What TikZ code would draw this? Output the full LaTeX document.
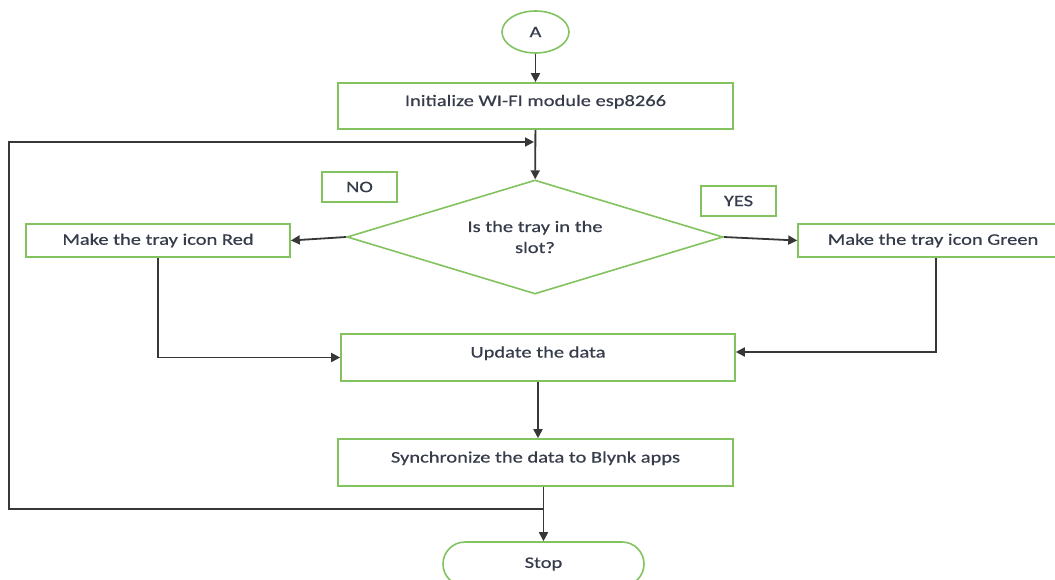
\documentclass[tikz,border=0pt]{standalone}
\usepackage{fontspec}
\setmainfont{Carlito}[FakeStretch=1.28,FakeBold=0.6]
\usetikzlibrary{shapes.geometric,arrows.meta}
\definecolor{bordergreen}{RGB}{130,195,95}
\definecolor{txt}{RGB}{55,60,75}
\definecolor{conn}{RGB}{55,55,55}
\begin{document}
\begin{tikzpicture}[x=1pt,y=-1pt,
  base/.style={draw=bordergreen,line width=1.6pt,fill=white,text=txt,
    font=\fontsize{16}{21}\selectfont,inner sep=0pt},
  proc/.style={base,rectangle},
  upper/.style={text height=11pt,text depth=11pt},
  arr/.style={draw=conn,line width=1.8pt,-{Triangle[length=9pt,width=9pt]}}
]
\useasboundingbox (0,0) rectangle (1055,580);

\node[base,ellipse,minimum width=67pt,minimum height=42pt] (A) at (535.5,32) {A};
\node[proc,upper,minimum width=395pt,minimum height=46pt] (init) at (535.5,106) {Initialize WI-FI module esp8266};
\node[base,diamond,aspect=3.3,minimum width=376pt,minimum height=114pt,align=center] (dec) at (535,237) {Is the tray in the\\slot?};
\node[proc,minimum width=75pt,minimum height=30pt] (no) at (359.5,187) {NO};
\node[proc,minimum width=75pt,minimum height=30pt] (yes) at (738.5,201) {YES};
\node[proc,minimum width=264pt,minimum height=33pt] (red) at (158,240.5) {Make the tray icon Red};
\node[proc,minimum width=270pt,minimum height=33pt] (green) at (933,240.5) {Make the tray icon Green};
\node[proc,upper,minimum width=394pt,minimum height=47pt] (update) at (538,357.5) {Update the data};
\node[proc,upper,minimum width=395pt,minimum height=47pt] (sync) at (535.5,462.5) {Synchronize the data to Blynk apps};
\node[base,rectangle,rounded corners=22pt,minimum width=201pt,minimum height=44pt] (stop) at (543.5,564) {Stop};

\coordinate (jb) at (542.5,509);
\coordinate (lb) at (9,509);
\coordinate (lt) at (9,142);
\coordinate (jt) at (534,142);

\draw[arr] (A) -- (init);
\draw[arr] (init) -- (dec);
\draw[arr] (dec.west) -- (red.east);
\draw[arr] (dec.east) -- (green.west);
\draw[arr] (red.south) |- (update.west);
\draw[arr] ([xshift=3pt]green.south) |- ([yshift=5.5pt]update.east);
\draw[arr] (update.south) -- (update.south |- sync.north);
\draw[arr] (sync.south -| stop.north) -- (stop.north);
\draw[arr] (jb) -- (lb) -- (lt) -- (jt);
\end{tikzpicture}
\end{document}
